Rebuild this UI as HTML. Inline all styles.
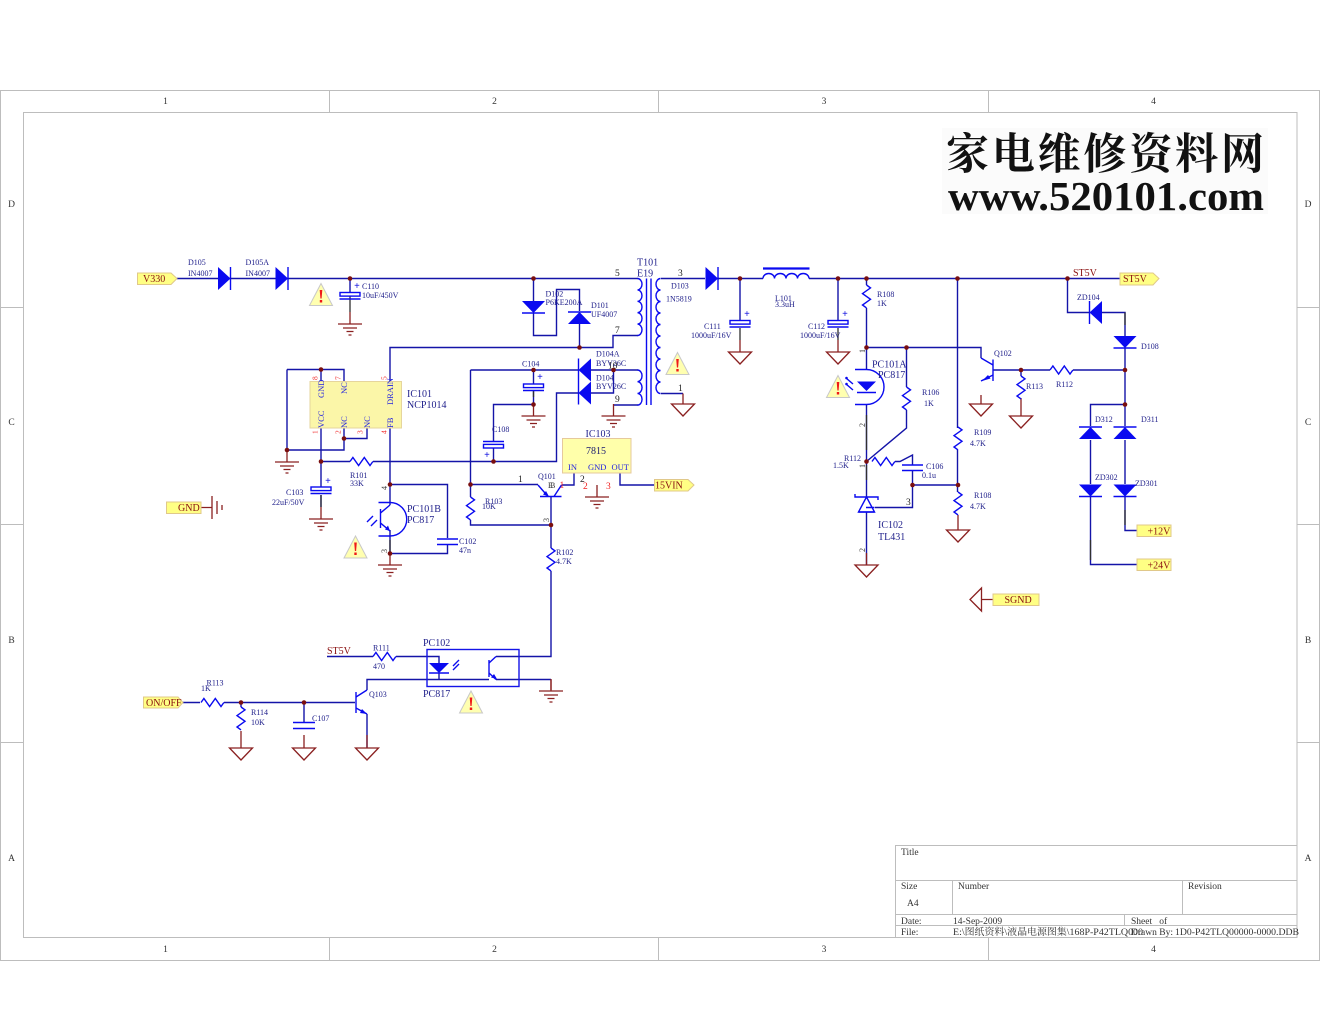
<!DOCTYPE html>
<html><head><meta charset="utf-8"><style>
html,body{margin:0;padding:0;background:#fff}
svg{display:block}
text{font-family:"Liberation Serif","Noto Serif CJK SC",serif}
.w{fill:none;stroke:#1414a8;stroke-width:1.4}
.k{fill:none;stroke:#303030;stroke-width:1.3}
.b{fill:none;stroke:#0a0af0;stroke-width:1.4}
.r{fill:none;stroke:#8a2020;stroke-width:1.3}
.f{fill:none;stroke:#bdbdbd;stroke-width:1}
.s{font-size:8px;fill:#22228c}
.m{font-size:10px;fill:#22228c}
.p{font-size:8.5px;fill:#2222e0}
.n{font-size:7.5px;fill:#f03030}
.d{font-size:9.5px;fill:#222}
.t{font-size:10px;fill:#8a1010}
.g{font-size:9.5px;fill:#444}
.h{font-size:9.5px;fill:#333}
</style></head><body>
<svg xmlns="http://www.w3.org/2000/svg" width="1320" height="1020" viewBox="0 0 1320 1020">
<defs>
<g id="gnd"><path class="r" d="M0 -12V0M-12 0H12M-7 4H7M-3.5 7.5H3.5M-1.5 11H1.5" stroke-width="1.4"/></g>
<g id="tri"><path class="r" d="M-11.5 0H11.5L0 12Z"/></g>
<g id="rv"><path class="b" d="M0 0l4 2.9l-8 5.7l8 5.7l-8 5.7l4 2.9"/></g>
<g id="rh"><path class="b" d="M0 0l2.9 -4l5.7 8l5.7 -8l5.7 8l2.9 -4"/></g>
<g id="cap"><rect class="b" x="-10" y="0" width="20" height="3.6" fill="none"/><path class="b" d="M-10.5 6.5H10.5"/></g>
<g id="dn"><path fill="#0a0af0" d="M-11.5 -12H11.5L0 0Z"/><path class="b" d="M-11.5 0H11.5" stroke-width="2"/></g>
<g id="up"><path fill="#0a0af0" d="M-11.5 12H11.5L0 0Z"/><path class="b" d="M-11.5 0H11.5" stroke-width="2"/></g>
<g id="rt"><path fill="#0a0af0" d="M-12.5 -11.5V11.5L0 0Z"/><path class="b" d="M0 -11.5V11.5" stroke-width="2"/></g>
<g id="lf"><path fill="#0a0af0" d="M12.5 -11.5V11.5L0 0Z"/><path class="b" d="M0 -11.5V11.5" stroke-width="2"/></g>
<g id="warn"><path d="M0 0L11.5 22H-11.5Z" fill="#ffffb0" stroke="#c8c8c8"/><path d="M-1.3 6.5H1.3L.6 15H-.6Z M-1.2 16.5H1.2V19H-1.2Z" fill="#f01818"/></g>
<g id="j"><circle r="2.3" fill="#7a0f0f"/></g>
</defs>

<!-- frame -->
<rect class="f" x="0.5" y="90.5" width="1319" height="870"/>
<rect class="f" x="23.5" y="112.5" width="1273.5" height="825"/>
<path class="f" d="M329.5 90V112M658.5 90V112M988.5 90V112M329.5 938V960M658.5 938V960M988.5 938V960M0 307.5H23M0 524.5H23M0 742.5H23M1297 307.5H1320M1297 524.5H1320M1297 742.5H1320"/>
<g font-size="9.5" fill="#333" text-anchor="middle">
<text x="165.500" y="104">1</text><text x="494.500" y="104">2</text><text x="824" y="104">3</text><text x="1153.500" y="104">4</text>
<text x="165.500" y="952">1</text><text x="494.500" y="952">2</text><text x="824" y="952">3</text><text x="1153.500" y="952">4</text>
<text x="11.500" y="207">D</text><text x="11.500" y="425">C</text><text x="11.500" y="643">B</text><text x="11.500" y="861">A</text>
<text x="1308" y="207">D</text><text x="1308" y="425">C</text><text x="1308" y="643">B</text><text x="1308" y="861">A</text>
</g>
<!-- title block -->
<path class="f" d="M895.5 937V845.500H1297M895.500 880.500H1297M895.500 914.500H1297M895.500 925.500H1297M952.500 880.500V914.500M1182.500 880.500V914.500M1124.500 914.500V925.500"/>
<text class="h" x="901" y="855">Title</text><text class="h" x="901" y="889">Size</text><text class="h" x="907" y="906">A4</text><text class="h" x="958" y="889">Number</text><text class="h" x="1188" y="889">Revision</text>
<text class="h" x="901" y="924">Date:</text><text class="h" x="953" y="924">14-Sep-2009</text><text class="h" x="1131" y="924">Sheet&#160;&#160;&#160;of</text>
<text class="h" x="901" y="935">File:</text>
<text class="h" x="953" y="935" textLength="190" lengthAdjust="spacingAndGlyphs">E:\图纸资料\液晶电源图集\168P-P42TLQ000</text>
<text class="h" x="1131" y="935">Drawn By:</text>
<text class="h" x="1175" y="935" textLength="124" lengthAdjust="spacingAndGlyphs">1D0-P42TLQ00000-0000.DDB</text>

<!-- watermark -->
<rect x="942" y="128" width="326" height="86" fill="#fbfbfb"/>
<text x="946" y="169" font-size="43" font-weight="700" fill="#111" textLength="318" style='font-family:"Noto Serif CJK SC","Liberation Serif",serif'>家电维修资料网</text>
<text x="948" y="210" font-size="41" font-weight="700" fill="#111" textLength="316" lengthAdjust="spacingAndGlyphs">www.520101.com</text>

<!-- wires -->
<g class="w">
<path d="M177 278.500H638M350 278.500V292"/>
<path d="M718 278.500H763M809 278.500H1120"/>
<path d="M717 278.500H719M287 369.500H344V381M321 369.500V381M287 369.500V450M287 450H344V428M344 438.500H367V428"/>
<path d="M321 428V487M321 495V507M321 461.500H350M373 461.500H556.500V393H579M493.500 461.500V448M493.500 441V404.500H533.500"/>
<path d="M390 381V347.500H613V335.500H638M579.500 347.500V324M579.500 311V289.500H556.500V335.500H533.500V313M533.500 278.500V301"/>
<path d="M390 428V505M390 484.500H447.500V538M447.500 545V553.500H390M390 530V553.500"/>
<path d="M470.500 370H578M470.500 370V497M470.500 520V525H551M470.500 484.500H538M533.500 370V384M533.500 391V404.500"/>
<path d="M561.500 485H574V473M551 497V548M551 571V656.500H496M551 679.500H496"/>
<path d="M620 473V485H655"/>
<path d="M591 370H638M591 393H613.500V370M613.500 405H638"/>
<path d="M661 278.500H705M661 393.500H683"/>
<path d="M740 278.500V320M838 278.500V320M866.500 278.500V285M866.500 308V369M866.500 347.500H981V358M906.500 347.500V387M906.500 410V428L866.500 461.500"/>
<path d="M866.500 404V497M866.500 512V565M895 461.500H900L912.500 455V465M912.500 471V507.500H875M912.500 485H958"/>
<path d="M957.500 278.500V428M957.500 450V492"/>
<path d="M993 370H1050M1073 370H1125M1021 370V376"/>
<path d="M1067.500 278.500V312.500H1090M1102 312.500H1125V336M1125 348V426M1125 404.500H1090.500V426M1125 440V484M1090.500 440V484M1125 497V530.500H1137M1090.500 497V564.500H1137"/>
<path d="M183 702.500H200M224 702.500H355M241 702.500V707M304 702.500V722"/>
<path d="M327 656.500H373M396 656.500H439V663M439 673V679.500M367 690V679.500H489"/>
<path d="M367 714V748"/>
</g>
<!-- dark pin stubs -->
<g class="k">
<path d="M350 296V312M740 328V340M838 328V340M321 495V507M1125 312.500V325M1090.500 540V560M1125 510V525M533.500 391V397M390 540V553M866.500 415V450M866.500 465V480"/>
</g>
<!-- red leads -->
<g class="r">
<path d="M740 340V352M838 340V352M683 393.500V404M866.500 553V565M958 515V530M981 395V404M1021 398V416M241 731V748M304 735V748M367 735V748M551 679.500V690"/>
</g>

<!-- grounds -->
<use href="#gnd" x="350" y="324"/><use href="#gnd" x="287" y="462"/><use href="#gnd" x="321" y="519"/><use href="#gnd" x="390" y="565"/>
<use href="#gnd" x="533.500" y="416"/><use href="#gnd" x="613.500" y="416"/><use href="#gnd" x="597" y="497"/><use href="#gnd" x="551" y="691"/>
<use href="#tri" x="683" y="404"/><use href="#tri" x="740" y="352"/><use href="#tri" x="838" y="352"/><use href="#tri" x="981" y="404"/>
<use href="#tri" x="1021" y="416"/><use href="#tri" x="958" y="530"/><use href="#tri" x="866.500" y="565"/><use href="#tri" x="241" y="748"/><use href="#tri" x="304" y="748"/><use href="#tri" x="367" y="748"/>
<path class="r" d="M201 507.500H212M212 496V519M217 501V514M222 505V510"/>
<path class="r" d="M993 599.500H981.500M981.500 588L970 599.500L981.500 611Z"/>

<!-- diodes -->
<use href="#rt" x="230.500" y="278.500"/><use href="#rt" x="288" y="278.500"/><use href="#rt" x="718" y="278.500"/>
<use href="#dn" x="533.500" y="313"/><use href="#up" x="579.500" y="312"/>
<use href="#lf" x="578.500" y="370"/><use href="#lf" x="578.500" y="393"/>
<use href="#lf" x="1089.500" y="312.500"/><use href="#dn" x="1125" y="348"/>
<use href="#up" x="1090.500" y="427"/><use href="#up" x="1125" y="427"/><use href="#dn" x="1090.500" y="496.500"/><use href="#dn" x="1125" y="496.500"/>

<!-- caps -->
<use href="#cap" x="350" y="292.500"/><use href="#cap" x="321" y="487"/><use href="#cap" x="533.500" y="384"/><use href="#cap" x="740" y="320.500"/><use href="#cap" x="838" y="320.500"/>
<g transform="translate(493.500 448) scale(1 -1)"><use href="#cap"/></g>
<path class="b" d="M437 539H458M437 544.500H458M902 465H923M902 470.500H923M293 722.500H315M293 728.500H315"/>
<g font-size="10" font-weight="700" fill="#1010e0" text-anchor="middle">
<text x="357" y="289">+</text><text x="328" y="484">+</text><text x="540" y="380">+</text><text x="747" y="317">+</text><text x="845" y="317">+</text><text x="487" y="458">+</text>
</g>

<!-- resistors -->
<use href="#rv" x="866.500" y="285"/><use href="#rv" x="906.500" y="387"/><use href="#rv" x="958" y="427"/><use href="#rv" x="958" y="492"/><use href="#rv" x="1021" y="376"/><use href="#rv" x="470.500" y="497"/><use href="#rv" x="551" y="548"/><use href="#rv" x="241" y="707"/>
<use href="#rh" x="350" y="461.500"/><use href="#rh" x="872" y="461.500"/><use href="#rh" x="1050" y="370"/><use href="#rh" x="201" y="702.500"/><use href="#rh" x="373" y="656.500"/>

<!-- coils + core -->
<path class="b" d="M637.500 278.500a4.500 5.700 0 0 1 0 11.400a4.500 5.700 0 0 1 0 11.400a4.500 5.700 0 0 1 0 11.400a4.500 5.700 0 0 1 0 11.400a4.500 5.700 0 0 1 0 11.400"/>
<path class="b" d="M637.500 370a4.500 5.800 0 0 1 0 11.700a4.500 5.800 0 0 1 0 11.700a4.500 5.800 0 0 1 0 11.700"/>
<path class="b" d="M660.500 278.500a4.500 5.750 0 0 0 0 11.500a4.500 5.750 0 0 0 0 11.500a4.500 5.750 0 0 0 0 11.500a4.500 5.750 0 0 0 0 11.500a4.500 5.750 0 0 0 0 11.500a4.500 5.750 0 0 0 0 11.500a4.500 5.750 0 0 0 0 11.500a4.500 5.750 0 0 0 0 11.500a4.500 5.750 0 0 0 0 11.500a4.500 5.750 0 0 0 0 11.500"/>
<path class="b" d="M646.500 278.500V405M651 278.500V405"/>
<path class="b" d="M763 278.500a5.750 5 0 0 1 11.500 0a5.750 5 0 0 1 11.500 0a5.750 5 0 0 1 11.500 0a5.750 5 0 0 1 11.500 0"/>
<path d="M763 268.500H809.500" stroke="#0a0af0" stroke-width="2.200"/>

<!-- IC101 / IC103 -->
<rect x="310" y="381.500" width="91.500" height="46.500" fill="#fbf6a8" stroke="#e6d59c"/>
<rect x="562.500" y="438.500" width="68.500" height="34.500" fill="#ffffaa" stroke="#e6c99c"/>

<!-- PC101B -->
<path class="b" d="M378.500 502.500H390A16.700 16.700 0 0 1 390 536H378.500"/>
<path class="b" d="M380.500 509V528" stroke-width="2"/>
<path class="b" d="M380.500 513L390 505M380.500 523L390 531"/>
<path fill="#0a0af0" d="M390 531l-5 -1.500l3 -4z"/>
<path class="b" d="M367 522l6 -6M371 526l6 -6"/>
<!-- PC101A -->
<path class="b" d="M855 369.500H866.500A17.500 17.500 0 0 1 866.500 404.500H855"/>
<path fill="#0a0af0" d="M857 381.500H876L866.500 391Z"/>
<path class="b" d="M857 392.500H876" stroke-width="2"/>
<path class="b" d="M846 378l7 6M846 384l7 6"/>
<circle cx="846.500" cy="378" r="1.300" fill="#0a0af0"/><circle cx="846.500" cy="384" r="1.300" fill="#0a0af0"/>
<!-- TL431 -->
<path class="b" d="M855 494V497H878V500M866.500 497L858.500 512H874.500ZM874.500 507.500H866"/>
<path class="b" d="M858.500 512H874.500" stroke-width="1.800"/>
<!-- Q101 -->
<path class="b" d="M540 496.500H561.500" stroke-width="1.800"/>
<path class="b" d="M538 485L548 496.500M554 496.500L561.500 485"/>
<path fill="#0a0af0" d="M549 496.500l-6 -2l3 -3.500z"/>
<!-- Q102 -->
<path class="b" d="M993 359.500V381" stroke-width="1.800"/>
<path class="b" d="M981 358L993 365M993 375L981 381"/>
<path fill="#0a0af0" d="M982 381l6 -6l2.500 3.500z"/>
<!-- Q103 -->
<path class="b" d="M356 692V713" stroke-width="1.800"/>
<path class="b" d="M356 697L367 690M356 708L367 714"/>
<path fill="#0a0af0" d="M367 714l-7 -1l2 -4z"/>
<!-- PC102 -->
<rect x="427" y="649.500" width="92" height="37" fill="none" stroke="#1414e8" stroke-width="1.400"/>
<path fill="#0a0af0" d="M429 663H449L439 673Z"/>
<path class="b" d="M429 673H449" stroke-width="2"/>
<path class="b" d="M453 670l6 -6M453 666l6 -6"/>
<path class="b" d="M489 660V677" stroke-width="2"/>
<path class="b" d="M489 663L496 656.500M489 673L496 679.500"/>
<path fill="#0a0af0" d="M497 679l-6 -1.500l3 -3.500z"/>

<!-- warnings -->
<use href="#warn" x="321" y="283.500"/><use href="#warn" x="355.500" y="536"/><use href="#warn" x="677.500" y="352.500"/><use href="#warn" x="838" y="375.500"/><use href="#warn" x="471" y="691"/>

<!-- junctions -->
<g>
<use href="#j" x="350" y="278.500"/><use href="#j" x="533.500" y="278.500"/><use href="#j" x="740" y="278.500"/><use href="#j" x="838" y="278.500"/><use href="#j" x="866.500" y="278.500"/><use href="#j" x="957.500" y="278.500"/><use href="#j" x="1067.500" y="278.500"/>
<use href="#j" x="321" y="369.500"/><use href="#j" x="344" y="438.500"/><use href="#j" x="287" y="450"/><use href="#j" x="321" y="461.500"/><use href="#j" x="390" y="484.500"/><use href="#j" x="390" y="553.500"/>
<use href="#j" x="579.500" y="347.500"/><use href="#j" x="533.500" y="370"/><use href="#j" x="613.500" y="370"/><use href="#j" x="533.500" y="404.500"/><use href="#j" x="493.500" y="461.500"/><use href="#j" x="470.500" y="484.500"/><use href="#j" x="551" y="525"/>
<use href="#j" x="866.500" y="347.500"/><use href="#j" x="906.500" y="347.500"/><use href="#j" x="866.500" y="461.500"/><use href="#j" x="912.500" y="485"/><use href="#j" x="958" y="485"/>
<use href="#j" x="1021" y="370"/><use href="#j" x="1125" y="370"/><use href="#j" x="1125" y="404.500"/>
<use href="#j" x="241" y="702.500"/><use href="#j" x="304" y="702.500"/>
</g>

<!-- tags -->
<g fill="#ffff84" stroke="#e0c88a">
<path d="M137.500 273H171L177 278.500L171 284.500H137.500Z"/>
<path d="M654.500 479.500H688L694 485L688 491H654.500Z"/>
<path d="M1120 273H1153L1159 278.500L1153 285H1120Z"/>
<path d="M143.500 697H178L183 702.500L178 708H143.500Z"/>
<rect x="166.500" y="502" width="34.500" height="11.500"/>
<rect x="1137" y="525" width="34" height="11.500"/>
<rect x="1137" y="559" width="34" height="11.500"/>
<rect x="993" y="594" width="46" height="11.500"/>
</g>
<text class="t" x="143" y="282">V330</text><text class="t" x="655" y="488.500">15VIN</text><text class="t" x="1123" y="282">ST5V</text><text class="t" x="146" y="706">ON/OFF</text>
<text class="t" x="178" y="511">GND</text><text class="t" x="1147.500" y="534.500">+12V</text><text class="t" x="1147.500" y="568.500">+24V</text><text class="t" x="1004.500" y="603">SGND</text>
<text class="t" x="1073" y="276">ST5V</text><text class="t" x="327" y="654">ST5V</text>

<!-- IC pin text -->
<g class="p">
<text transform="translate(324 398) rotate(-90)">GND</text><text transform="translate(347 394) rotate(-90)">NC</text><text transform="translate(393 405) rotate(-90)">DRAIN</text>
<text transform="translate(324 428) rotate(-90)">VCC</text><text transform="translate(347 428) rotate(-90)">NC</text><text transform="translate(370 428) rotate(-90)">NC</text><text transform="translate(393 428) rotate(-90)">FB</text>
</g>
<g class="n">
<text transform="translate(317.500 380) rotate(-90)">8</text><text transform="translate(340.500 380) rotate(-90)">7</text><text transform="translate(386.500 380) rotate(-90)">5</text>
<text transform="translate(317.500 434) rotate(-90)">1</text><text transform="translate(340.500 434) rotate(-90)">2</text><text transform="translate(362.500 434) rotate(-90)">3</text><text transform="translate(386.500 434) rotate(-90)">4</text>
</g>
<text class="p" x="568" y="470">IN</text><text class="p" x="588" y="470">GND</text><text class="p" x="611.500" y="470">OUT</text>
<text x="586" y="454" font-size="10" fill="#1a1a70">7815</text>
<text x="559.500" y="488" font-size="9.500" fill="#f02020">1</text><text x="583" y="489" font-size="9.500" fill="#f02020">2</text><text x="606" y="489" font-size="9.500" fill="#f02020">3</text>

<!-- black pin numbers -->
<g class="d">
<text x="615" y="276">5</text><text x="615" y="333">7</text><text x="678" y="276">3</text><text x="678" y="391">1</text><text x="615" y="402">9</text><text x="608" y="368.500">10</text>
<text x="518" y="482">1</text><text x="580" y="482">2</text><text x="906" y="505">3</text>
</g>
<g font-size="8" fill="#333">
<text transform="translate(865 353) rotate(-90)">1</text><text transform="translate(865 427) rotate(-90)">2</text><text transform="translate(865 468) rotate(-90)">1</text><text transform="translate(865 552) rotate(-90)">2</text>
<text transform="translate(387 490) rotate(-90)">4</text><text transform="translate(387 553) rotate(-90)">3</text><text transform="translate(549 522) rotate(-90)">3</text>
</g>
<text x="548" y="488" font-size="8" fill="#333">E</text><text x="550" y="488" font-size="8" fill="#333">B</text>

<!-- small labels -->
<g class="s">
<text x="188" y="265">D105</text><text x="188" y="276">IN4007</text><text x="245.500" y="265">D105A</text><text x="245.500" y="276">IN4007</text>
<text x="362" y="289">C110</text><text x="362" y="298">10uF/450V</text>
<text x="350" y="478">R101</text><text x="350" y="486">33K</text><text x="286" y="495">C103</text><text x="272" y="505">22uF/50V</text>
<text x="459" y="544">C102</text><text x="459" y="553">47n</text><text x="485" y="504">R103</text><text x="482" y="509">10K</text>
<text x="556" y="555">R102</text><text x="556" y="564">4.7K</text><text x="538" y="479">Q101</text>
<text x="545.500" y="296.500">D102</text><text x="545.500" y="305">P6KE200A</text><text x="591" y="308">D101</text><text x="591" y="317">UF4007</text>
<text x="596" y="356.500">D104A</text><text x="596" y="366">BYV26C</text><text x="596" y="380.500">D104</text><text x="596" y="389">BYV26C</text>
<text x="522" y="366.500">C104</text><text x="492" y="432">C108</text>
<text x="671" y="288.500">D103</text><text x="666" y="301.500">1N5819</text>
<text x="704" y="329">C111</text><text x="691" y="338">1000uF/16V</text><text x="808" y="329">C112</text><text x="800" y="338">1000uF/16V</text>
<text x="775" y="301">L101</text><text x="775" y="307">3.3uH</text>
<text x="877" y="297">R108</text><text x="877" y="306">1K</text><text x="922" y="395">R106</text><text x="924" y="406">1K</text>
<text x="974" y="435">R109</text><text x="970" y="446">4.7K</text><text x="974" y="498">R108</text><text x="970" y="509">4.7K</text>
<text x="844" y="461">R112</text><text x="833" y="468">1.5K</text><text x="926" y="469">C106</text><text x="922" y="478">0.1u</text>
<text x="994" y="356">Q102</text><text x="1026" y="389">R113</text><text x="1056" y="387">R112</text>
<text x="1077" y="300">ZD104</text><text x="1141" y="349">D108</text><text x="1095" y="422">D312</text><text x="1141" y="422">D311</text><text x="1095" y="480">ZD302</text><text x="1135" y="486">ZD301</text>
<text x="206.500" y="685.500">R113</text><text x="201" y="691">1K</text><text x="251" y="715">R114</text><text x="251" y="725">10K</text><text x="312" y="721">C107</text><text x="369" y="697">Q103</text>
<text x="373" y="650.500">R111</text><text x="373" y="669">470</text>
</g>
<g class="m">
<text x="407" y="397">IC101</text><text x="407" y="408">NCP1014</text><text x="407" y="512">PC101B</text><text x="407" y="523">PC817</text>
<text x="637" y="265.500">T101</text><text x="637" y="276.500">E19</text><text x="585.500" y="437">IC103</text>
<text x="872" y="367.500">PC101A</text><text x="878" y="378">PC817</text><text x="878" y="528">IC102</text><text x="878" y="540">TL431</text>
<text x="423" y="646">PC102</text><text x="423" y="697">PC817</text>
</g>
</svg>
</body></html>
